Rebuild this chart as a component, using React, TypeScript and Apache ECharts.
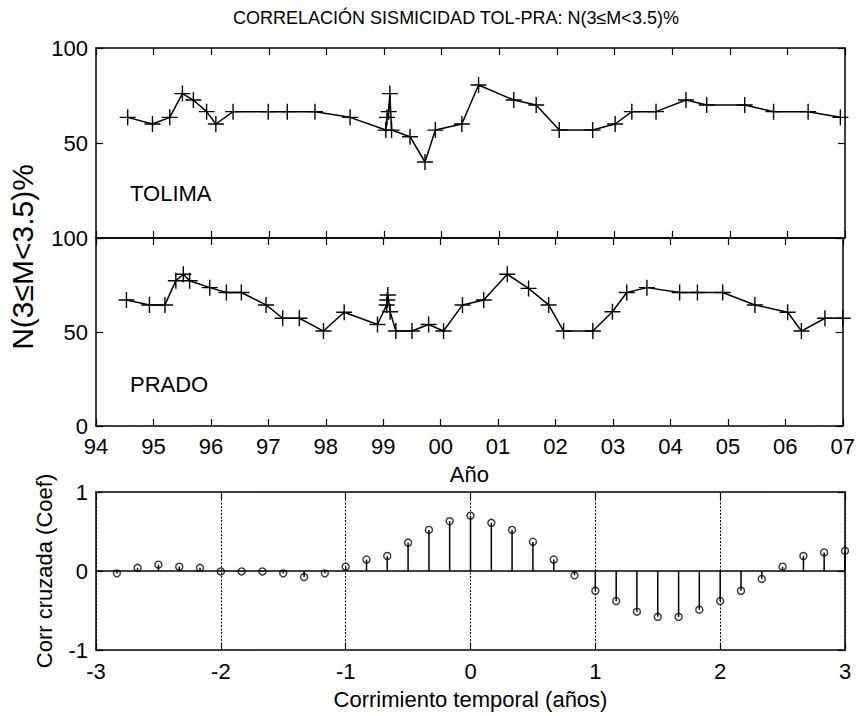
import React, { useEffect, useRef } from "react";
import * as echarts from "echarts";

// Seismicity share N(3<=M<3.5)% per sample time, Tolima region
const tolimaYears = [
  1994.55, 1994.98, 1995.28, 1995.5, 1995.69, 1995.92, 1996.08, 1996.38, 1996.99, 1997.32,
  1997.8, 1998.41, 1999.03, 1999.05, 1999.08, 1999.1, 1999.13, 1999.45, 1999.71, 1999.89,
  2000.35, 2000.64, 2001.25, 2001.64, 2002.04, 2002.62, 2003.01, 2003.3, 2003.72, 2004.24,
  2004.6, 2005.26, 2005.76, 2006.36, 2006.92,
];
const tolimaValues = [
  63.5, 60, 63.5, 76, 72.6, 66.5, 60, 66.5, 66.5, 66.5,
  66.5, 63.5, 56.8, 63.5, 66.5, 76, 56.8, 53.3, 40, 56.8,
  60, 80.5, 72.6, 70, 56.8, 56.8, 60, 66.5, 66.5, 72.6,
  70, 70, 66.5, 66.5, 63.5,
];

// Same quantity, Prado region
const pradoYears = [
  1994.53, 1994.93, 1995.2, 1995.39, 1995.52, 1995.63, 1995.98, 1996.27, 1996.53, 1996.96,
  1997.25, 1997.54, 1997.96, 1998.32, 1998.9, 1999.06, 1999.07, 1999.08, 1999.12, 1999.22,
  1999.5, 1999.79, 2000.05, 2000.38, 2000.75, 2001.16, 2001.53, 2001.88, 2002.14, 2002.65,
  2002.99, 2003.24, 2003.59, 2004.16, 2004.47, 2004.91, 2005.47, 2006.04, 2006.28, 2006.69,
  2007.0,
];
const pradoValues = [
  67, 64.4, 64.4, 77.3, 80.7, 77.3, 73.6, 71, 71, 64.4,
  57.3, 57.3, 50.5, 60.5, 54, 64.4, 67, 69.7, 60.8, 50.5,
  50.5, 54, 50.5, 64.4, 67, 80.7, 73.2, 64.4, 50.5, 50.5,
  60.8, 71, 73.6, 71, 71, 71, 64.4, 60.5, 50.5, 57.3,
  57.3,
];

// Cross-correlation coefficient against time shift (years)
const corrLags = [
  -2.833, -2.667, -2.5, -2.333, -2.167, -2.0, -1.833, -1.667, -1.5, -1.333, -1.167, -1.0,
  -0.833, -0.667, -0.5, -0.333, -0.167, 0.0, 0.167, 0.333, 0.5, 0.667, 0.833, 1.0,
  1.167, 1.333, 1.5, 1.667, 1.833, 2.0, 2.167, 2.333, 2.5, 2.667, 2.833, 3.0,
];
const corrValues = [
  -0.03, 0.04, 0.08, 0.055, 0.04, -0.005, -0.005, -0.005, -0.03, -0.077, -0.03, 0.055,
  0.145, 0.19, 0.36, 0.52, 0.63, 0.7, 0.61, 0.52, 0.37, 0.145, -0.055, -0.25,
  -0.38, -0.515, -0.58, -0.58, -0.49, -0.38, -0.25, -0.1, 0.055, 0.19, 0.235, 0.255,
];

const yearTickLabels = ["94", "95", "96", "97", "98", "99", "00", "01", "02", "03", "04", "05", "06", "07"];

const titleText = "CORRELACIÓN SISMICIDAD TOL-PRA: N(3≤M<3.5)%";
const seriesYLabel = "N(3≤M<3.5)%";
const corrYLabel = "Corr cruzada (Coef)";
const yearAxisName = "Año";
const lagAxisName = "Corrimiento temporal (años)";

const FONT = "'Liberation Sans', Arial, Helvetica, sans-serif";
const INK = "#000";

const axisLine = { show: true, onZero: false, lineStyle: { color: INK, width: 1.5 } };
const axisTick = { show: true, inside: true, length: 7, lineStyle: { color: INK, width: 1.2 } };
const hidden = { show: false };
const tickLabel = { color: INK, fontFamily: FONT, fontSize: 22 };
const nameStyle = { color: INK, fontFamily: FONT, fontSize: 22 };

const crossSymbol = "path://M5,0 L5,10 M0,5 L10,5";

function yearAxis(gridIndex: number, position: "top" | "bottom", withLabels: boolean, name?: string) {
  return {
    type: "value",
    gridIndex,
    position,
    min: 1994,
    max: 2007,
    interval: 1,
    axisLine,
    axisTick,
    splitLine: hidden,
    axisLabel: withLabels
      ? {
          ...tickLabel,
          margin: 9,
          showMinLabel: true,
          showMaxLabel: true,
          formatter: (v: number) => yearTickLabels[Math.round(v - 1994)] ?? "",
        }
      : hidden,
    name: name ?? "",
    nameLocation: "middle",
    nameGap: 37,
    nameTextStyle: nameStyle,
  };
}

function pctAxis(gridIndex: number, position: "left" | "right", withLabels: boolean, hideZero: boolean) {
  return {
    type: "value",
    gridIndex,
    position,
    min: 0,
    max: 100,
    interval: 50,
    axisLine,
    axisTick,
    splitLine: hidden,
    axisLabel: withLabels
      ? {
          ...tickLabel,
          margin: 8,
          showMinLabel: true,
          showMaxLabel: true,
          formatter: (v: number) => (hideZero && v === 0 ? "" : String(v)),
        }
      : hidden,
  };
}

function lagAxis(position: "top" | "bottom", withLabels: boolean) {
  return {
    type: "value",
    gridIndex: 2,
    position,
    min: -3,
    max: 3,
    interval: 1,
    axisLine,
    axisTick,
    splitLine: withLabels
      ? { show: true, lineStyle: { color: INK, width: 1, type: [2, 1.5] } }
      : hidden,
    axisLabel: withLabels ? { ...tickLabel, margin: 10, showMinLabel: true, showMaxLabel: true } : hidden,
    name: withLabels ? lagAxisName : "",
    nameLocation: "middle",
    nameGap: 38,
    nameTextStyle: nameStyle,
  };
}

function corrAxis(position: "left" | "right", withLabels: boolean) {
  return {
    type: "value",
    gridIndex: 2,
    position,
    min: -1,
    max: 1,
    interval: 1,
    axisLine,
    axisTick,
    splitLine: hidden,
    axisLabel: withLabels ? { ...tickLabel, margin: 8, showMinLabel: true, showMaxLabel: true } : hidden,
  };
}

export default function App() {
  const ref = useRef<HTMLDivElement>(null);

  useEffect(() => {
    if (!ref.current) return;
    const chart = echarts.init(ref.current, undefined, { renderer: "svg" });

    const tolimaData = tolimaYears.map((x, i) => [x, tolimaValues[i]]);
    const pradoData = pradoYears.map((x, i) => [x, pradoValues[i]]);
    const corrData = corrLags.map((x, i) => [x, corrValues[i]]);

    const lineSeries = (name: string, axis: number, data: number[][]) => ({
      name,
      type: "line",
      xAxisIndex: axis,
      yAxisIndex: axis,
      data,
      symbol: crossSymbol,
      symbolSize: 16,
      showAllSymbol: true,
      clip: true,
      lineStyle: { color: INK, width: 1.5 },
      itemStyle: { color: INK, borderColor: INK, borderWidth: 1.4 },
      emphasis: { disabled: true },
    });

    chart.setOption({
      animation: false,
      backgroundColor: "#fff",
      grid: [
        { left: 96, top: 48, width: 749, height: 190 },
        { left: 96, top: 238, width: 749, height: 188 },
        { left: 96, top: 492, width: 749, height: 158 },
      ],
      xAxis: [
        yearAxis(0, "bottom", false),
        yearAxis(0, "top", false),
        yearAxis(1, "bottom", true, yearAxisName),
        yearAxis(1, "top", false),
        lagAxis("bottom", true),
        lagAxis("top", false),
      ],
      yAxis: [
        pctAxis(0, "left", true, true),
        pctAxis(0, "right", false, false),
        pctAxis(1, "left", true, false),
        pctAxis(1, "right", false, false),
        corrAxis("left", true),
        corrAxis("right", false),
      ],
      series: [
        lineSeries("TOLIMA", 0, tolimaData),
        lineSeries("PRADO", 2, pradoData),
        {
          name: "stems",
          type: "custom",
          xAxisIndex: 4,
          yAxisIndex: 4,
          data: corrData,
          silent: true,
          renderItem: (_params: any, api: any) => {
            const x = api.value(0);
            const v = api.value(1);
            const p0 = api.coord([x, 0]);
            const p1 = api.coord([x, v]);
            return {
              type: "line",
              shape: { x1: p0[0], y1: p0[1], x2: p1[0], y2: p1[1] },
              style: { stroke: INK, lineWidth: 1.5 },
            };
          },
        },
        {
          name: "corr",
          type: "scatter",
          xAxisIndex: 4,
          yAxisIndex: 4,
          data: corrData,
          symbol: "circle",
          symbolSize: 7,
          itemStyle: { color: "rgba(0,0,0,0)", borderColor: INK, borderWidth: 1.4 },
          emphasis: { disabled: true },
          markLine: {
            silent: true,
            symbol: "none",
            label: { show: false },
            lineStyle: { color: INK, width: 1.5, type: "solid" },
            data: [{ yAxis: 0 }],
          },
        },
      ],
      graphic: [
        {
          type: "text",
          x: 456,
          y: 18,
          style: {
            text: titleText,
            fill: INK,
            font: `18px ${FONT}`,
            textAlign: "center",
            textVerticalAlign: "middle",
          },
        },
        {
          type: "text",
          x: 130,
          y: 193,
          style: { text: "TOLIMA", fill: INK, font: `22px ${FONT}`, textAlign: "left", textVerticalAlign: "middle" },
        },
        {
          type: "text",
          x: 130,
          y: 384,
          style: { text: "PRADO", fill: INK, font: `22px ${FONT}`, textAlign: "left", textVerticalAlign: "middle" },
        },
        {
          type: "text",
          x: 22,
          y: 257,
          rotation: Math.PI / 2,
          style: { text: seriesYLabel, fill: INK, font: `30px ${FONT}`, textAlign: "center", textVerticalAlign: "middle" },
        },
        {
          type: "text",
          x: 44,
          y: 571,
          rotation: Math.PI / 2,
          style: { text: corrYLabel, fill: INK, font: `22px ${FONT}`, textAlign: "center", textVerticalAlign: "middle" },
        },
      ],
    });

    return () => chart.dispose();
  }, []);

  return (
    <div
      ref={ref}
      style={{ position: "fixed", left: 0, top: 0, width: 858, height: 716, background: "#fff" }}
    />
  );
}
